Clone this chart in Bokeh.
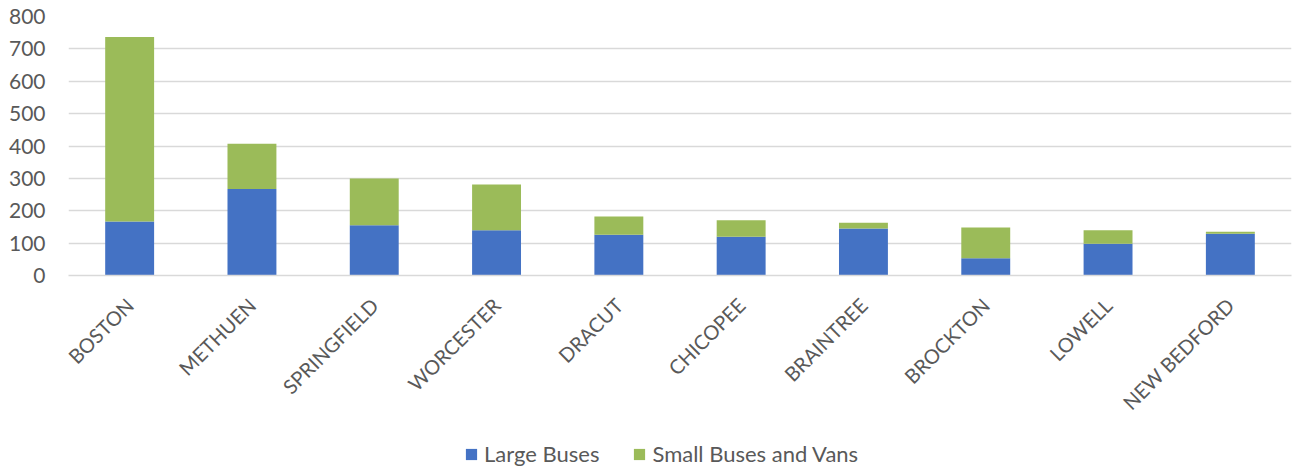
import math
from bokeh.plotting import figure
from bokeh.layouts import column
from bokeh.models import ColumnDataSource, Legend, LegendItem, FactorRange
from bokeh.embed import file_html
from bokeh.resources import INLINE

cities = ["BOSTON", "METHUEN", "SPRINGFIELD", "WORCESTER", "DRACUT",
          "CHICOPEE", "BRAINTREE", "BROCKTON", "LOWELL", "NEW BEDFORD"]
large_buses = [167, 267, 155, 140, 126, 120, 145, 53, 98, 129]
small_buses_vans = [570, 140, 145, 141, 56, 51, 18, 95, 42, 6]
series = ["Large Buses", "Small Buses and Vans"]
colors = ["#4472C4", "#9BBB59"]

src = ColumnDataSource(dict(city=cities, large=large_buses, small=small_buses_vans))

p = figure(x_range=FactorRange(*cities), y_range=(0, 800), width=1293, height=430,
           output_backend="svg", toolbar_location=None,
           min_border_left=68, min_border_right=2, min_border_top=16, min_border_bottom=155)

r = p.vbar_stack(["large", "small"], x="city", width=0.4, source=src,
                 color=colors, line_color=None)

p.xgrid.grid_line_color = None
p.ygrid.grid_line_color = "#d9d9d9"
p.ygrid.grid_line_width = 1.5
p.outline_line_color = None
p.yaxis.axis_line_color = None
p.yaxis.major_tick_line_color = None
p.yaxis.minor_tick_line_color = None
p.yaxis.major_tick_out = 0
p.yaxis.minor_tick_out = 0
p.xaxis.axis_line_color = "#d9d9d9"
p.xaxis.axis_line_width = 1.5
p.xaxis.major_tick_line_color = None
p.xaxis.major_tick_out = 0
p.yaxis.ticker = [0, 100, 200, 300, 400, 500, 600, 700, 800]
for ax in (p.xaxis, p.yaxis):
    ax.major_label_text_font = "Lato"
    ax.major_label_text_color = "#595959"
p.yaxis.major_label_text_font_size = "21px"
p.xaxis.major_label_text_font_size = "20px"
p.xaxis.major_label_orientation = math.pi / 4
p.xaxis.major_label_standoff = 26
p.yaxis.major_label_standoff = 23

# legend strip below the chart (swatch glyphs kept outside the strip's visible range)
lg = figure(width=1293, height=37, x_range=(0, 1), y_range=(0, 1),
            x_axis_type=None, y_axis_type=None, output_backend="svg",
            toolbar_location=None, min_border=0, outline_line_color=None)
lg.grid.visible = False
dummies = [lg.vbar(x=[-10], top=[-10], bottom=[-11], width=0.1, color=c, line_color=None)
           for c in colors]
legend = Legend(items=[LegendItem(label=series[i], renderers=[dummies[i]]) for i in range(2)],
                orientation="horizontal", location=(396, 0),
                label_text_font="Lato", label_text_font_size="22px",
                label_text_color="#595959", glyph_width=14, glyph_height=14,
                label_height=14, spacing=33, padding=0, margin=0, border_line_color=None,
                background_fill_alpha=0, label_standoff=6)
lg.add_layout(legend, "center")

open("out.html", "w").write(file_html(column(p, lg, spacing=0), INLINE))
